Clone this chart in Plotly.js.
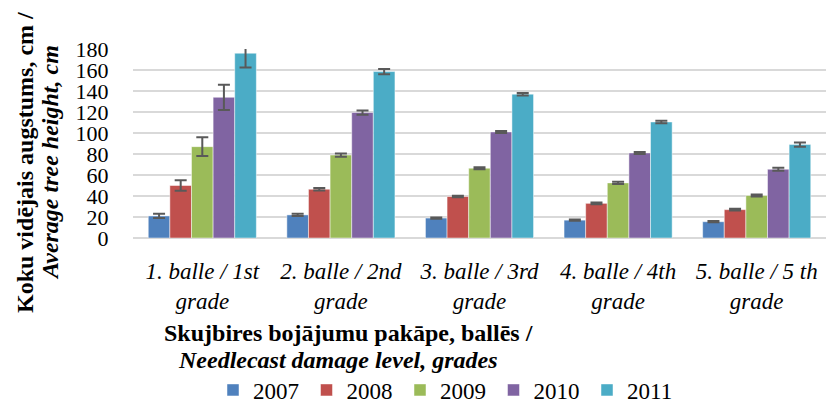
<!DOCTYPE html>
<html><head><meta charset="utf-8">
<script src="https://cdn.plot.ly/plotly-3.0.1.min.js"></script>
<style>html,body{margin:0;padding:0;background:#fff}#chart{width:826px;height:403px}</style>
</head><body><div id="chart"></div>
<script>
const categories = ["1. balle / 1st<br>grade","2. balle / 2nd<br>grade","3. balle / 3rd<br>grade","4. balle / 4th<br>grade","5. balle / 5 th<br>grade"];
const years = ["2007","2008","2009","2010","2011"];
const v2007 = [21, 22, 19, 17, 15.5];
const v2008 = [50, 46.5, 39.5, 33, 27];
const v2009 = [87, 79, 66.5, 52.5, 40.5];
const v2010 = [134, 119.5, 101, 81, 65.5];
const v2011 = [176, 158.5, 137, 110.5, 89];
const e2007 = [2, 1, 0.6, 0.6, 0.6];
const e2008 = [5, 1.2, 0.8, 0.8, 0.8];
const e2009 = [9, 1.5, 1, 1, 1];
const e2010 = [12, 2, 1, 1, 1.5];
const e2011 = [13.5, 2.5, 1.2, 1.2, 2];
const colors = ["#4F81BD","#C0504D","#9BBB59","#8064A2","#4BACC6"];
const yTicks = [0,20,40,60,80,100,120,140,160,180];

const vals = [v2007,v2008,v2009,v2010,v2011];
const errs = [e2007,e2008,e2009,e2010,e2011];
const L=133, R=0, T=49, B=165, W=826, H=403;
const pw=W-L-R, ph=H-T-B;
const px=x=>(x-L)/pw, py=y=>(H-B-y)/ph;
const serif="Liberation Serif";

const traces = years.map((y,i)=>({
  type:"bar", name:y, x:categories.map(c=>"<i>"+c.replace("<br>","</i><br><i>")+"</i>"), y:vals[i],
  marker:{color:colors[i], line:{color:"rgba(255,255,255,0.6)", width:0.8}},
  error_y:{type:"data", array:errs[i], visible:true, color:"#595959", thickness:2, width:6},
  cliponaxis:false
}));

const layout = {
  width:W, height:H, margin:{l:L,r:R,t:T,b:B,autoexpand:false},
  paper_bgcolor:"#fff", plot_bgcolor:"#fff",
  barmode:"group", bargap:0.22, bargroupgap:0,
  font:{family:serif, size:22, color:"#000"},
  xaxis:{type:"category", showgrid:false, zeroline:false, showline:false, automargin:false,
    ticks:"outside", ticklen:12, tickcolor:"rgba(0,0,0,0)", tickfont:{family:serif,size:23,color:"#000"}},
  yaxis:{range:[0,180], tickvals:yTicks, ticktext:yTicks.map(String), showgrid:true, gridcolor:"#D9D9D9", gridwidth:1.6,
    zeroline:true, zerolinecolor:"#D9D9D9", zerolinewidth:1.6, showline:false, automargin:false,
    ticks:"outside", ticklen:19, tickcolor:"rgba(0,0,0,0)", tickfont:{family:serif,size:22,color:"#000"}},
  showlegend:true,
  legend:{orientation:"h", x:px(213), y:py(390), xanchor:"left", yanchor:"middle",
    entrywidth:48.5, entrywidthmode:"pixels", font:{family:serif,size:23,color:"#000"}, itemwidth:30, tracegroupgap:0},
  annotations:[
    {xref:"paper",yref:"paper",x:px(25),y:py(163),text:"<b>Koku vidējais augstums, cm /</b>",textangle:-90,showarrow:false,xanchor:"center",yanchor:"middle",font:{family:serif,size:24,color:"#000"}},
    {xref:"paper",yref:"paper",x:px(50),y:py(163),text:"<b><i>Average tree height, cm</i></b>",textangle:-90,showarrow:false,xanchor:"center",yanchor:"middle",font:{family:serif,size:24,color:"#000"}},
    {xref:"paper",yref:"paper",x:px(348),y:py(333),text:"<b>Skujbires bojājumu pakāpe, ballēs /</b>",showarrow:false,xanchor:"center",yanchor:"middle",font:{family:serif,size:24,color:"#000"}},
    {xref:"paper",yref:"paper",x:px(338),y:py(360),text:"<b><i>Needlecast damage level, grades</i></b>",showarrow:false,xanchor:"center",yanchor:"middle",font:{family:serif,size:24,color:"#000"}}
  ]
};
Plotly.newPlot("chart", traces, layout, {displayModeBar:false, staticPlot:true});
</script></body></html>
